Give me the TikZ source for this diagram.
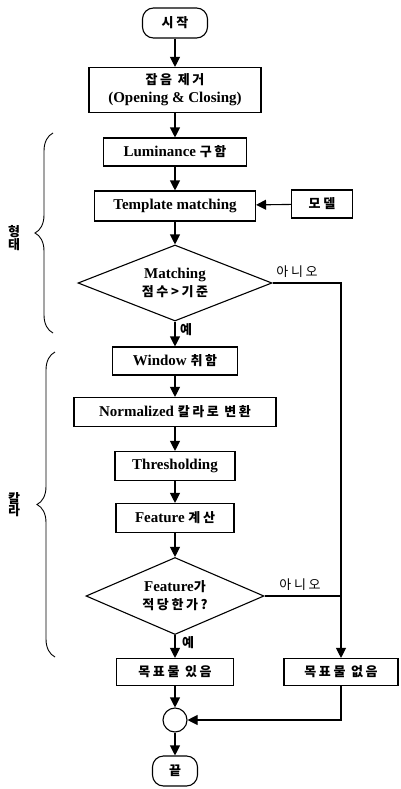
\documentclass[tikz,border=0pt]{standalone}
\usepackage{fontspec}
\setmainfont{Liberation Serif}
\newfontfamily\krfont[LetterSpace=20]{Noto Sans CJK KR}
\newcommand\ko[1]{{\krfont\fontsize{13}{16}\selectfont #1}}
\usepackage{tikz}
\usetikzlibrary{positioning,shapes.geometric,arrows.meta,decorations.pathreplacing}

\tikzset{
    proc/.style={draw, line width=1.1pt, minimum height=28pt, inner sep=2pt,
        font=\fontsize{15}{18}\selectfont\bfseries, align=center},
    term/.style={draw, line width=1.1pt, rounded corners=11pt, minimum height=30pt,
        font=\bfseries},
    decide/.style={draw, diamond, line width=1.1pt, inner sep=0pt, aspect=2.5,
        font=\fontsize{15}{18}\selectfont\bfseries, align=center},
    flow/.style={line width=1.1pt, -{Triangle[length=10pt,width=10pt]}},
    plain/.style={line width=1.1pt},
    side/.style={decorate, decoration={brace, amplitude=18pt}, line width=0.9pt},
    tag/.style={inner sep=1pt}
}

\begin{document}
\begin{tikzpicture}[x=1pt, y=-1pt]
        \useasboundingbox (0,0) rectangle (400,789);
        % main column
        \node[term, minimum width=65pt] (start) at (175,23) {\ko{시작}};
        \node[proc, minimum width=172pt, minimum height=45pt] (noise) at (175,90) {\ko{잡음 제거}\\(Opening \& Closing)};
        \node[proc, minimum width=143pt] (lum) at (175,152) {Luminance \ko{구함}};
        \node[proc, minimum width=161pt, minimum height=30pt] (tmpl) at (175,206) {Template matching};
        \node[proc, minimum width=61pt] (model) at (322,204) {\ko{모델}};
        \node[decide, minimum width=194pt, minimum height=76pt] (dec1) at (175,283) {Matching\\\ko{점수>기준}};
        \node[proc, minimum width=125pt] (win) at (175,361) {Window \ko{취함}};
        \node[proc, minimum width=202pt, minimum height=29pt] (norm) at (175,412) {Normalized \ko{칼라로 변환}};
        \node[proc, minimum width=120pt, minimum height=29pt] (thr) at (175,466) {Thresholding};
        \node[proc, minimum width=118pt, minimum height=29pt] (feat) at (175,518) {Feature \ko{계산}};
        \node[decide, minimum width=178pt, minimum height=77pt] (dec2) at (175,596) {Feature\ko{가}\\\ko{적당한가?}};
        \node[proc, minimum width=117pt, minimum height=27pt] (found) at (175,672) {\ko{목표물 있음}};
        \node[proc, minimum width=114pt, minimum height=27pt] (none) at (341,672) {\ko{목표물 없음}};
        \node[circle, draw, line width=1.1pt, minimum size=24pt, inner sep=0pt] (merge) at (175,720) {};
        \node[term, minimum width=45pt] (stop) at (175,771) {\ko{끝}};

        % branch labels
        \node[tag] (no1) at (297,272) {\ko{아니오}};
        \node[tag] (no2) at (300,585) {\ko{아니오}};
        \node[tag, font=\bfseries] (yes1) at (186,330) {\ko{예}};
        \node[tag, font=\bfseries] (yes2) at (188,643) {\ko{예}};

        \draw[flow] (start) -- (noise);
        \draw[flow] (noise) -- (lum);
        \draw[flow] (lum) -- (tmpl);
        \draw[flow] (model) -- (tmpl);
        \draw[flow] (tmpl) -- (dec1);
        \draw[flow] (dec1) -- (win);
        \draw[flow] (win) -- (norm);
        \draw[flow] (norm) -- (thr);
        \draw[flow] (thr) -- (feat);
        \draw[flow] (feat) -- (dec2);
        \draw[flow] (dec2) -- (found);
        \draw[flow] (dec1.east) -| (none.north);
        \draw[plain] (dec2.east) -- (dec2.east -| none.north);
        \draw[flow] (found) -- (merge);
        \draw[flow] (none.south) |- (merge.east);
        \draw[flow] (merge) -- (stop);

        % stage braces
        \draw[side] (53,333) -- (53,133);
        \draw[side] (55,657) -- (55,352);
        \node[align=center, inner sep=0pt, font=\bfseries] (shape) at (14,238) {\ko{형}\\[-1pt]\ko{태}};
        \node[align=center, inner sep=0pt, font=\bfseries] (colour) at (14,505) {\ko{칼}\\[-1pt]\ko{라}};
\end{tikzpicture}
\end{document}
